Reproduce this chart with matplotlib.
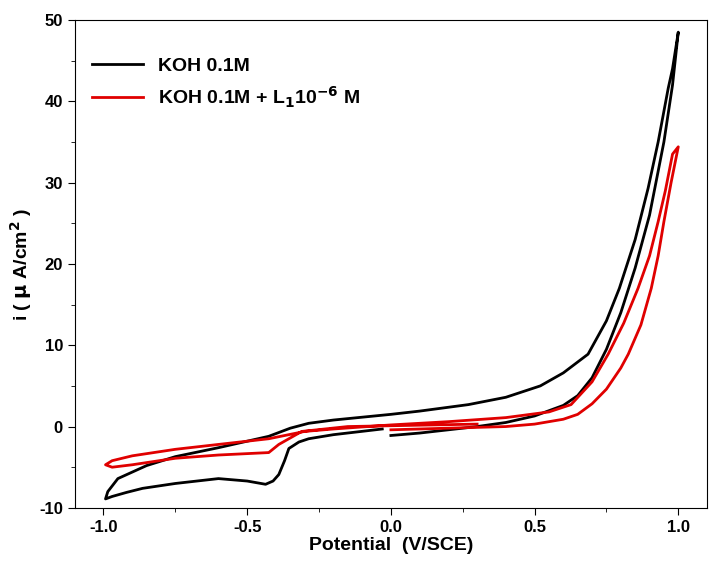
import numpy as np
import matplotlib
matplotlib.use('Agg')
import matplotlib.pyplot as plt
from matplotlib.ticker import MultipleLocator

plt.rcParams['font.family'] = ['Liberation Sans', 'DejaVu Sans']
plt.rcParams['font.weight'] = 'bold'
plt.rcParams['axes.unicode_minus'] = False

# KOH 0.1M : one cycle, (potential V, current uA/cm2)
koh_v = [0.0, 0.1, 0.2, 0.3, 0.4, 0.5, 0.6, 0.65, 0.7, 0.75, 0.8, 0.85, 0.9, 0.95, 0.98, 1.0,
         0.98, 0.965, 0.93, 0.895, 0.85, 0.795, 0.75, 0.686, 0.6, 0.52, 0.4, 0.27, 0.1, 0.0,
         -0.2, -0.286, -0.35, -0.425, -0.5, -0.6, -0.75, -0.85, -0.95, -0.985, -0.993,
         -0.97, -0.92, -0.864, -0.75, -0.6, -0.5, -0.436, -0.41, -0.39, -0.37, -0.355,
         -0.32, -0.286, -0.2, -0.03]
koh_i = [-1.1, -0.8, -0.4, 0.0, 0.5, 1.3, 2.6, 3.8, 6.0, 9.5, 14.0, 19.5, 26.0, 35.0, 42.0, 48.5,
         44.0, 41.6, 35.0, 29.3, 23.0, 17.0, 13.0, 8.9, 6.6, 5.0, 3.6, 2.7, 1.9, 1.5,
         0.8, 0.4, -0.2, -1.2, -1.8, -2.6, -3.7, -4.8, -6.4, -8.0, -8.9,
         -8.6, -8.1, -7.6, -7.0, -6.4, -6.7, -7.1, -6.7, -5.9, -4.2, -2.7,
         -1.9, -1.5, -1.0, -0.3]

# KOH 0.1M + L1 1e-6 M
lig_v = [0.0, 0.2, 0.4, 0.5, 0.6, 0.65, 0.7, 0.75, 0.8, 0.826, 0.87, 0.906, 0.93, 0.95, 0.975, 1.0,
         0.98, 0.955, 0.93, 0.9, 0.86, 0.81, 0.756, 0.7, 0.627, 0.55, 0.4, 0.2, 0.0,
         -0.2, -0.3, -0.425, -0.6, -0.75, -0.9, -0.97, -0.993,
         -0.97, -0.9, -0.75, -0.6, -0.425, -0.39, -0.31, -0.15, 0.0, 0.3]
lig_i = [-0.4, -0.2, 0.0, 0.3, 0.9, 1.5, 2.8, 4.6, 7.2, 8.9, 12.5, 17.0, 21.0, 25.2, 30.0, 34.4,
         33.5, 29.0, 25.2, 21.0, 17.0, 12.7, 8.9, 5.5, 2.7, 1.8, 1.1, 0.6, 0.2,
         -0.3, -0.6, -1.5, -2.2, -2.8, -3.6, -4.2, -4.7,
         -5.0, -4.7, -3.9, -3.5, -3.2, -2.2, -0.6, 0.0, 0.1, 0.3]

fig = plt.figure(figsize=(7.12, 5.70), dpi=100)
ax = fig.add_axes([0.105, 0.109, 0.888, 0.856])
ax.plot(koh_v, koh_i, color='black', lw=2, label='KOH 0.1M')
ax.plot(lig_v, lig_i, color='#e00000', lw=2, label='KOH 0.1M + L$_\\mathbf{1}$10$^{\\mathbf{-6}}$ M')

ax.set_xlim(-1.1, 1.1)
ax.set_ylim(-10, 50)
ax.xaxis.set_major_locator(MultipleLocator(0.5))
ax.xaxis.set_minor_locator(MultipleLocator(0.25))
ax.yaxis.set_major_locator(MultipleLocator(10))
ax.yaxis.set_minor_locator(MultipleLocator(5))
ax.tick_params(which='both', direction='out', labelsize=12)
ax.tick_params(which='major', length=5)
ax.tick_params(which='minor', length=3)
for lab in ax.get_xticklabels() + ax.get_yticklabels():
    lab.set_fontweight('bold')
ax.set_xlabel('Potential  (V/SCE)', fontsize=14, fontweight='bold', labelpad=2)
ax.set_ylabel('i ( $\\mathbf{\\mu}$ A/cm$^\\mathbf{2}$ )', fontsize=14, fontweight='bold')
leg = ax.legend(loc='upper left', frameon=False, prop={'size': 14, 'weight': 'bold'},
                handlelength=2.6, bbox_to_anchor=(0.0, 0.96))
fig.savefig('out.png', dpi=100)
